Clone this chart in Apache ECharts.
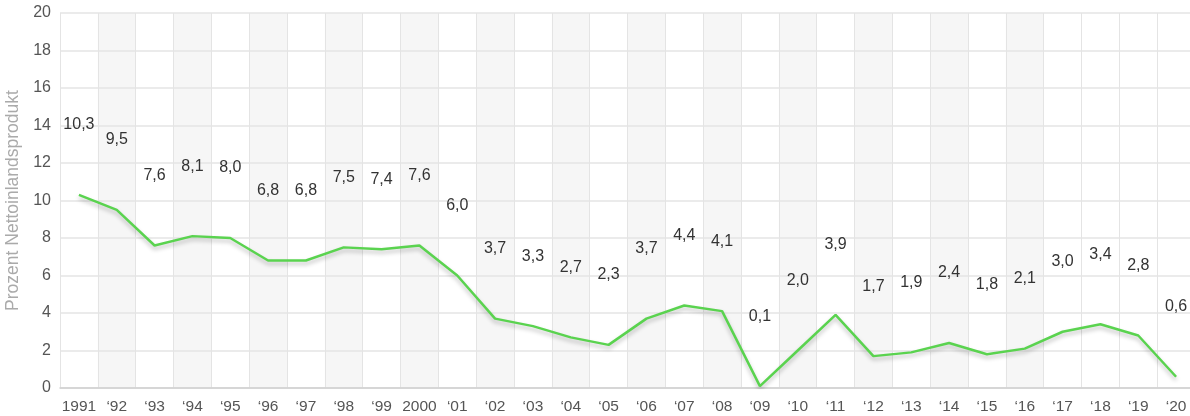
<!DOCTYPE html>
<html>
<head>
<meta charset="utf-8">
<script src="https://cdn.jsdelivr.net/npm/echarts@6/dist/echarts.min.js"></script>
<style>
  html, body { margin: 0; padding: 0; background: #fff; }
  #chart { width: 1190px; height: 416px; }
</style>
</head>
<body>
<div id="chart"></div>
<script>
// Kategorien (Jahre)
const years = ['1991', '\u201892', '\u201893', '\u201894', '\u201895', '\u201896', '\u201897', '\u201898', '\u201899', '2000',
  '\u201801', '\u201802', '\u201803', '\u201804', '\u201805', '\u201806', '\u201807', '\u201808', '\u201809', '\u201810',
  '\u201811', '\u201812', '\u201813', '\u201814', '\u201815', '\u201816', '\u201817', '\u201818', '\u201819', '\u201820']
// Werte in Prozent des Nettoinlandsprodukts
const values = [10.3, 9.5, 7.6, 8.1, 8.0, 6.8, 6.8, 7.5, 7.4, 7.6,
  6.0, 3.7, 3.3, 2.7, 2.3, 3.7, 4.4, 4.1, 0.1, 2.0,
  3.9, 1.7, 1.9, 2.4, 1.8, 2.1, 3.0, 3.4, 2.8, 0.6]
const yTicks = { min: 0, max: 20, interval: 2 }

// graue Streifen nur bis '16 (Hintergrund, volle Höhe)
const stripes = years.map((y, i) => (i % 2 === 1 && i <= 25) ? yTicks.max : null)

const chart = echarts.init(document.getElementById('chart'))

chart.setOption({
  animation: false,
  grid: { left: 60, right: -5, top: 13, bottom: 28, outerBoundsMode: 'none' },
  xAxis: {
    type: 'category',
    data: years,
    boundaryGap: true,
    z: 1,
    axisLine: { lineStyle: { color: '#d0d0d0', width: 1.5 } },
    axisTick: { show: false },
    axisLabel: { color: '#555', fontSize: 15.5, fontFamily: 'Liberation Sans', margin: 11, interval: 0 },
    splitLine: { show: true, interval: 0, lineStyle: { color: '#e4e4e4', width: 1 } }
  },
  yAxis: {
    type: 'value',
    min: yTicks.min,
    max: yTicks.max,
    interval: yTicks.interval,
    z: 1,
    name: 'Prozent Nettoinlandsprodukt',
    nameLocation: 'middle',
    nameGap: 31,
    nameTextStyle: { color: '#aaa', fontSize: 17.5, fontFamily: 'Liberation Sans' },
    axisLine: { show: false },
    axisTick: { show: false },
    axisLabel: { color: '#555', fontSize: 16, fontFamily: 'Liberation Sans', margin: 9 },
    splitLine: { lineStyle: { color: '#e4e4e4', width: 1.5 } }
  },
  series: [
    {
      type: 'bar',
      data: stripes,
      barWidth: '100%',
      silent: true,
      itemStyle: { color: '#f6f6f6' },
      z: 0
    },
    {
      type: 'line',
      data: values,
      symbol: 'circle',
      symbolSize: 0.01,
      showSymbol: true,
      lineStyle: {
        color: '#5ad34f',
        width: 2.5,
        shadowColor: 'rgba(0,0,0,0.25)',
        shadowBlur: 4,
        shadowOffsetY: 3
      },
      itemStyle: { color: '#5ad34f' },
      label: {
        show: true,
        position: 'top',
        distance: 62,
        color: '#333',
        fontSize: 16,
        fontFamily: 'Liberation Sans',
        formatter: p => p.value.toFixed(1).replace('.', ',')
      },
      labelLayout: { hideOverlap: false },
      z: 3
    }
  ]
})
</script>
</body>
</html>
